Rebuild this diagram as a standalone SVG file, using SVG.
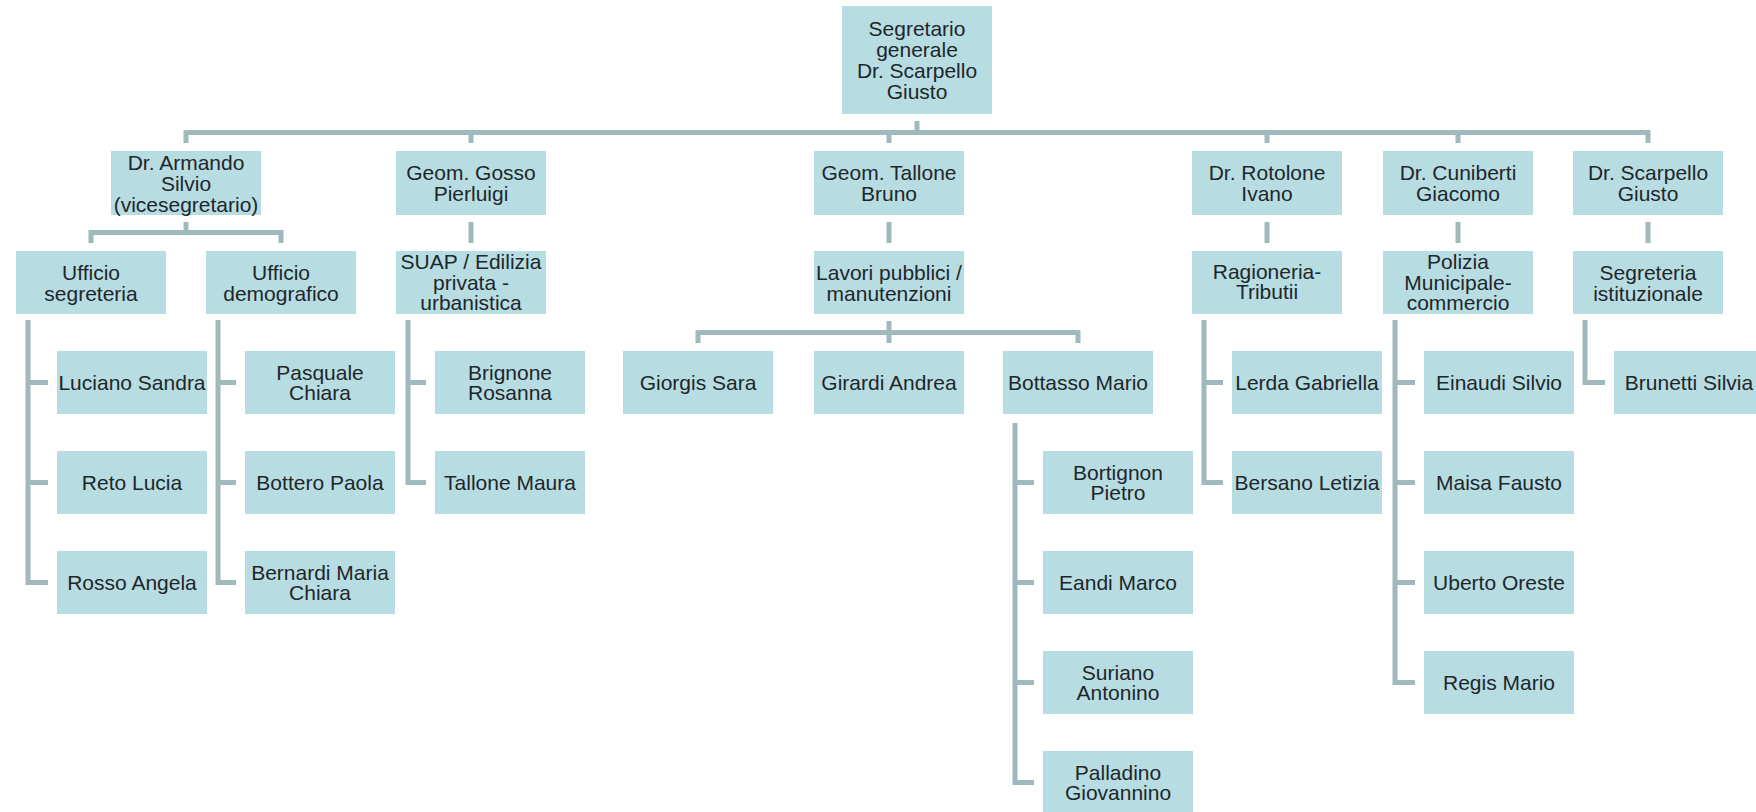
<svg xmlns="http://www.w3.org/2000/svg" width="1756" height="812" viewBox="0 0 1756 812">
<style>
.n rect{fill:#b7dce2}
.n text{font-family:"Liberation Sans",Arial,sans-serif;font-size:21px;fill:#1e272b;text-anchor:middle}
.c path{fill:none;stroke:#9fb9bc;stroke-width:5;stroke-linejoin:miter}
</style>
<rect width="1756" height="812" fill="#ffffff"/>
<g class="c" id="connectors">
<path d="M917,121 V135"/>
<path d="M186,143 V132.5 H1648 V143"/>
<path d="M471,132.5 V143 M889,132.5 V143 M1267,132.5 V143 M1458,132.5 V143"/>
<path d="M186,222 V232.5"/>
<path d="M91,243 V232.5 H281 V243"/>
<path d="M471,222 V243 M889,222 V243 M1267,222 V243 M1458,222 V243 M1648,222 V243"/>
<path d="M889,321 V343"/>
<path d="M698,343 V332.5 H1078 V343"/>
<path d="M28,320 V582.5 H48 M28,382.5 H48 M28,482.5 H48"/>
<path d="M218,320 V582.5 H236 M218,382.5 H236 M218,482.5 H236"/>
<path d="M408,320 V482.5 H426 M408,382.5 H426"/>
<path d="M1015,423 V782.5 H1034 M1015,482.5 H1034 M1015,582.5 H1034 M1015,682.5 H1034"/>
<path d="M1204,320 V482.5 H1223 M1204,382.5 H1223"/>
<path d="M1395,320 V682.5 H1415 M1395,382.5 H1415 M1395,482.5 H1415 M1395,582.5 H1415"/>
<path d="M1585,320 V382.5 H1605"/>
</g>
<g class="n" id="segretario-generale"><rect x="842" y="6" width="150" height="108"/><text><tspan x="917" y="36">Segretario</tspan><tspan x="917" y="57">generale</tspan><tspan x="917" y="78">Dr. Scarpello</tspan><tspan x="917" y="99">Giusto</tspan></text></g>
<g class="n" id="armando"><rect x="111" y="151" width="150" height="64"/><text><tspan x="186" y="169.5">Dr. Armando</tspan><tspan x="186" y="190.5">Silvio</tspan><tspan x="186" y="211.5">(vicesegretario)</tspan></text></g>
<g class="n" id="gosso"><rect x="396" y="151" width="150" height="64"/><text><tspan x="471" y="180">Geom. Gosso</tspan><tspan x="471" y="201">Pierluigi</tspan></text></g>
<g class="n" id="tallone-bruno"><rect x="814" y="151" width="150" height="64"/><text><tspan x="889" y="180">Geom. Tallone</tspan><tspan x="889" y="201">Bruno</tspan></text></g>
<g class="n" id="rotolone"><rect x="1192" y="151" width="150" height="64"/><text><tspan x="1267" y="180">Dr. Rotolone</tspan><tspan x="1267" y="201">Ivano</tspan></text></g>
<g class="n" id="cuniberti"><rect x="1383" y="151" width="150" height="64"/><text><tspan x="1458" y="180">Dr. Cuniberti</tspan><tspan x="1458" y="201">Giacomo</tspan></text></g>
<g class="n" id="scarpello"><rect x="1573" y="151" width="150" height="64"/><text><tspan x="1648" y="180">Dr. Scarpello</tspan><tspan x="1648" y="201">Giusto</tspan></text></g>
<g class="n" id="ufficio-segreteria"><rect x="16" y="251" width="150" height="63"/><text><tspan x="91" y="279.5">Ufficio</tspan><tspan x="91" y="300.5">segreteria</tspan></text></g>
<g class="n" id="ufficio-demografico"><rect x="206" y="251" width="150" height="63"/><text><tspan x="281" y="279.5">Ufficio</tspan><tspan x="281" y="300.5">demografico</tspan></text></g>
<g class="n" id="suap"><rect x="396" y="251" width="150" height="63"/><text><tspan x="471" y="269">SUAP / Edilizia</tspan><tspan x="471" y="289.5">privata -</tspan><tspan x="471" y="310">urbanistica</tspan></text></g>
<g class="n" id="lavori"><rect x="814" y="251" width="150" height="63"/><text><tspan x="889" y="279.5">Lavori pubblici /</tspan><tspan x="889" y="300.5">manutenzioni</tspan></text></g>
<g class="n" id="ragioneria"><rect x="1192" y="251" width="150" height="63"/><text><tspan x="1267" y="278.5">Ragioneria-</tspan><tspan x="1267" y="299">Tributii</tspan></text></g>
<g class="n" id="polizia"><rect x="1383" y="251" width="150" height="63"/><text><tspan x="1458" y="269">Polizia</tspan><tspan x="1458" y="289.5">Municipale-</tspan><tspan x="1458" y="310">commercio</tspan></text></g>
<g class="n" id="segreteria-istituzionale"><rect x="1573" y="251" width="150" height="63"/><text><tspan x="1648" y="279.5">Segreteria</tspan><tspan x="1648" y="300.5">istituzionale</tspan></text></g>
<g class="n" id="luciano"><rect x="57" y="351" width="150" height="63"/><text x="132" y="390">Luciano Sandra</text></g>
<g class="n" id="reto"><rect x="57" y="451" width="150" height="63"/><text x="132" y="490">Reto Lucia</text></g>
<g class="n" id="rosso"><rect x="57" y="551" width="150" height="63"/><text x="132" y="590">Rosso Angela</text></g>
<g class="n" id="pasquale"><rect x="245" y="351" width="150" height="63"/><text><tspan x="320" y="379.5">Pasquale</tspan><tspan x="320" y="400">Chiara</tspan></text></g>
<g class="n" id="bottero"><rect x="245" y="451" width="150" height="63"/><text x="320" y="490">Bottero Paola</text></g>
<g class="n" id="bernardi"><rect x="245" y="551" width="150" height="63"/><text><tspan x="320" y="579.5">Bernardi Maria</tspan><tspan x="320" y="600">Chiara</tspan></text></g>
<g class="n" id="brignone"><rect x="435" y="351" width="150" height="63"/><text><tspan x="510" y="379.5">Brignone</tspan><tspan x="510" y="400">Rosanna</tspan></text></g>
<g class="n" id="tallone-maura"><rect x="435" y="451" width="150" height="63"/><text x="510" y="490">Tallone Maura</text></g>
<g class="n" id="giorgis"><rect x="623" y="351" width="150" height="63"/><text x="698" y="390">Giorgis Sara</text></g>
<g class="n" id="girardi"><rect x="814" y="351" width="150" height="63"/><text x="889" y="390">Girardi Andrea</text></g>
<g class="n" id="bottasso"><rect x="1003" y="351" width="150" height="63"/><text x="1078" y="390">Bottasso Mario</text></g>
<g class="n" id="bortignon"><rect x="1043" y="451" width="150" height="63"/><text><tspan x="1118" y="479.5">Bortignon</tspan><tspan x="1118" y="500">Pietro</tspan></text></g>
<g class="n" id="eandi"><rect x="1043" y="551" width="150" height="63"/><text x="1118" y="590">Eandi Marco</text></g>
<g class="n" id="suriano"><rect x="1043" y="651" width="150" height="63"/><text><tspan x="1118" y="679.5">Suriano</tspan><tspan x="1118" y="700">Antonino</tspan></text></g>
<g class="n" id="palladino"><rect x="1043" y="751" width="150" height="63"/><text><tspan x="1118" y="779.5">Palladino</tspan><tspan x="1118" y="800">Giovannino</tspan></text></g>
<g class="n" id="lerda"><rect x="1232" y="351" width="150" height="63"/><text x="1307" y="390">Lerda Gabriella</text></g>
<g class="n" id="bersano"><rect x="1232" y="451" width="150" height="63"/><text x="1307" y="490">Bersano Letizia</text></g>
<g class="n" id="einaudi"><rect x="1424" y="351" width="150" height="63"/><text x="1499" y="390">Einaudi Silvio</text></g>
<g class="n" id="maisa"><rect x="1424" y="451" width="150" height="63"/><text x="1499" y="490">Maisa Fausto</text></g>
<g class="n" id="uberto"><rect x="1424" y="551" width="150" height="63"/><text x="1499" y="590">Uberto Oreste</text></g>
<g class="n" id="regis"><rect x="1424" y="651" width="150" height="63"/><text x="1499" y="690">Regis Mario</text></g>
<g class="n" id="brunetti"><rect x="1614" y="351" width="150" height="63"/><text x="1689" y="390">Brunetti Silvia</text></g>
</svg>
